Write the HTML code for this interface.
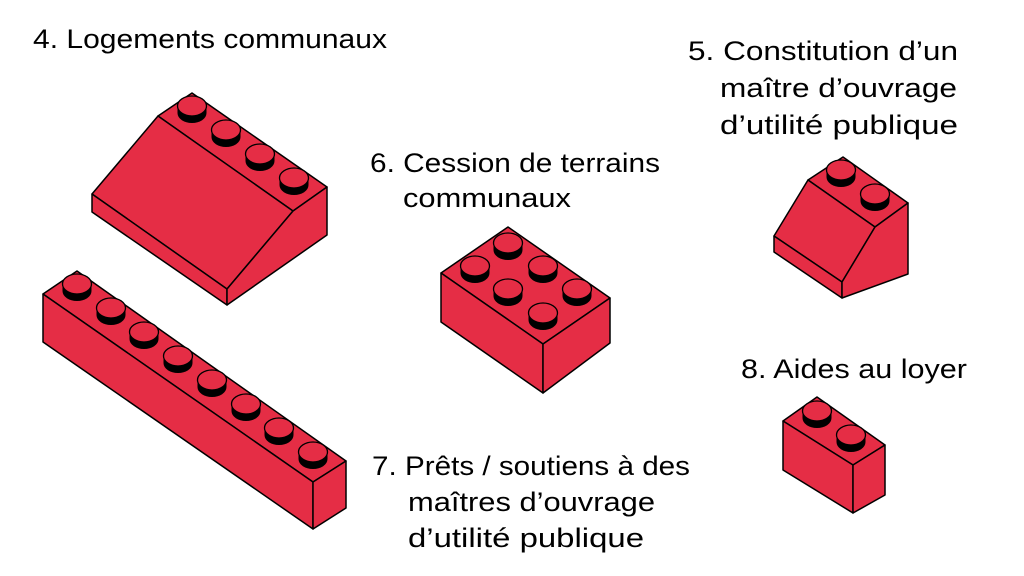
<!DOCTYPE html>
<html><head><meta charset="utf-8"><style>
html,body{margin:0;padding:0;background:#fff;}
svg{display:block;}
text{font-family:"Liberation Sans",sans-serif;font-size:27px;fill:#000;}
</style></head><body>
<svg width="1024" height="576" viewBox="0 0 1024 576" xmlns="http://www.w3.org/2000/svg">
<defs>
<g id="s">
<ellipse cx="0" cy="7" rx="14.5" ry="10" fill="#000"/>
<rect x="-14.5" y="0" width="29" height="7" fill="#000"/>
<ellipse cx="0" cy="0" rx="14.5" ry="10" fill="#e52d45" stroke="#000" stroke-width="1.3"/>
</g>
</defs>
<g fill="#e52d45" stroke="#000" stroke-width="1.5" stroke-linejoin="round">
<polygon points="158,116 192,93 327,187 293,211"/>
<polygon points="158,116 293,211 227,289 92,194"/>
<polygon points="92,194 227,289 227,305 92,212"/>
<polygon points="293,211 327,187 327,235 227,305 227,289"/>
</g>
<use href="#s" x="192" y="106"/><use href="#s" x="226" y="130"/><use href="#s" x="260" y="154"/><use href="#s" x="294" y="178"/>
<g fill="#e52d45" stroke="#000" stroke-width="1.5" stroke-linejoin="round">
<polygon points="43,294 77,271 346,461 313,482"/>
<polygon points="43,294 313,482 313,529 43,342"/>
<polygon points="313,482 346,461 346,508 313,529"/>
</g>
<use href="#s" x="77" y="284"/><use href="#s" x="111" y="308"/><use href="#s" x="144" y="332"/><use href="#s" x="178" y="356"/><use href="#s" x="212" y="380"/><use href="#s" x="246" y="404"/><use href="#s" x="279" y="428"/><use href="#s" x="313" y="452"/>
<g fill="#e52d45" stroke="#000" stroke-width="1.5" stroke-linejoin="round">
<polygon points="441,273 508,227 610,298 543,344"/>
<polygon points="441,273 543,344 543,393 441,322"/>
<polygon points="543,344 610,298 610,343 543,393"/>
</g>
<use href="#s" x="508" y="243"/><use href="#s" x="475" y="266"/><use href="#s" x="543" y="266"/><use href="#s" x="508" y="289"/><use href="#s" x="577" y="289"/><use href="#s" x="543" y="313"/>
<g fill="#e52d45" stroke="#000" stroke-width="1.5" stroke-linejoin="round">
<polygon points="808,180 843,157 908,203 875,227"/>
<polygon points="808,180 875,227 842,282 774,236"/>
<polygon points="774,236 842,282 842,298 774,252"/>
<polygon points="875,227 908,203 908,274 842,298 842,282"/>
</g>
<use href="#s" x="841" y="170"/><use href="#s" x="875" y="194"/>
<g fill="#e52d45" stroke="#000" stroke-width="1.5" stroke-linejoin="round">
<polygon points="783,421 817,397 885,445 853,465"/>
<polygon points="783,421 853,465 853,513 783,470"/>
<polygon points="853,465 885,445 885,495 853,513"/>
</g>
<use href="#s" x="817" y="411"/><use href="#s" x="851" y="435"/>

<text x="33" y="48" textLength="354" lengthAdjust="spacingAndGlyphs">4. Logements communaux</text>
<text x="370" y="172" textLength="290" lengthAdjust="spacingAndGlyphs">6. Cession de terrains</text>
<text x="403" y="207" textLength="168" lengthAdjust="spacingAndGlyphs">communaux</text>
<text x="688" y="60" textLength="270" lengthAdjust="spacingAndGlyphs">5. Constitution d’un</text>
<text x="720" y="97" textLength="237" lengthAdjust="spacingAndGlyphs">maître d’ouvrage</text>
<text x="720" y="134" textLength="238" lengthAdjust="spacingAndGlyphs">d’utilité publique</text>
<text x="741" y="378" textLength="226" lengthAdjust="spacingAndGlyphs">8. Aides au loyer</text>
<text x="372" y="475" textLength="318" lengthAdjust="spacingAndGlyphs">7. Prêts / soutiens à des</text>
<text x="408" y="511" textLength="247" lengthAdjust="spacingAndGlyphs">maîtres d’ouvrage</text>
<text x="408" y="547" textLength="236" lengthAdjust="spacingAndGlyphs">d’utilité publique</text>
</svg>
</body></html>
